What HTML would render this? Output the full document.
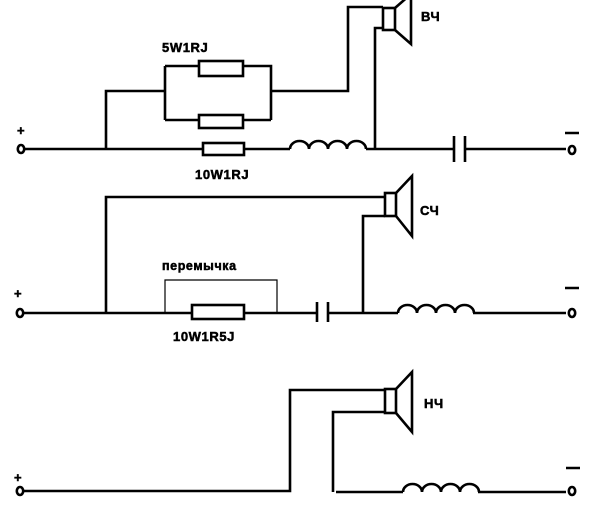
<!DOCTYPE html>
<html><head><meta charset="utf-8"><style>
html,body{margin:0;padding:0;background:#fff}
svg{display:block}
text{font-family:"Liberation Sans","DejaVu Sans",sans-serif;font-weight:bold;fill:#000;stroke:#000;stroke-width:0.5;letter-spacing:0.6px}
</style></head><body>
<svg width="600" height="513" viewBox="0 0 600 513" xmlns="http://www.w3.org/2000/svg">
<g fill="none" stroke="#000" stroke-width="2.6">
<!-- Section 1 -->
<ellipse cx="21" cy="149" rx="3.2" ry="4"/>
<path d="M25 149H203M244 149H290M366 149H454M465 149H566"/>
<rect x="203" y="143" width="41" height="12"/>
<path d="M290 149a9.5 8 0 0 1 19 0a9.5 8 0 0 1 19 0a9.5 8 0 0 1 19 0a9.5 8 0 0 1 19 0"/>
<path d="M454 136V162M465 136V162"/>
<ellipse cx="572" cy="150" rx="3.2" ry="4"/>
<path d="M106 149V91H165M165 66V120M165 66H199M243 66H271V120M165 120H199M243 120H271M271 91H348V7H383"/>
<rect x="199" y="61" width="44" height="15"/>
<rect x="199" y="115" width="44" height="13"/>
<path d="M375 149V28H383"/>
<rect x="383" y="8" width="12" height="22"/>
<path d="M395 8L411 -6V44L395 30"/>
<!-- Section 2 -->
<ellipse cx="20" cy="313" rx="3.2" ry="4"/>
<path d="M24 313H192M244 313H317M328 313H398M473 313H566"/>
<rect x="192" y="305" width="52" height="14"/>
<path d="M317 302V322M328 302V322"/>
<path d="M398 313a9.5 8 0 0 1 19 0a9.5 8 0 0 1 19 0a9.5 8 0 0 1 19 0a9.5 8 0 0 1 19 0"/>
<ellipse cx="572" cy="313" rx="3.2" ry="4"/>
<path d="M106 313V197H385M363 313V216H385"/>
<rect x="385" y="193" width="11" height="23"/>
<path d="M396 193L412 176V236L396 216"/>
<!-- Section 3 -->
<ellipse cx="20" cy="491" rx="3.2" ry="4"/>
<path d="M24 491H290V390H385M333 492V412H385M336 492H403M478 492H566"/>
<path d="M403 492a9.5 8 0 0 1 19 0a9.5 8 0 0 1 19 0a9.5 8 0 0 1 19 0a9.5 8 0 0 1 19 0"/>
<ellipse cx="572" cy="491" rx="3.2" ry="4"/>
<rect x="385" y="389" width="11" height="24"/>
<path d="M396 389L412 372V432L396 413"/>
</g>
<path d="M165 313V280H277V313" fill="none" stroke="#000" stroke-width="1.2"/>
<g stroke="#000" stroke-width="2.4">
<path d="M565 133H579M565 288H579M566 468H580"/>
</g>
<g font-size="13">
<text x="17" y="135">+</text>
<text x="14" y="298">+</text>
<text x="14" y="482">+</text>
<text x="421" y="21">ВЧ</text>
<text x="420" y="215">СЧ</text>
<text x="424" y="408">НЧ</text>
<text x="162" y="52">5W1RJ</text>
<text x="195" y="179">10W1RJ</text>
<text x="162" y="270" font-size="12.5">перемычка</text>
<text x="173" y="341">10W1R5J</text>
</g>
</svg>
</body></html>
